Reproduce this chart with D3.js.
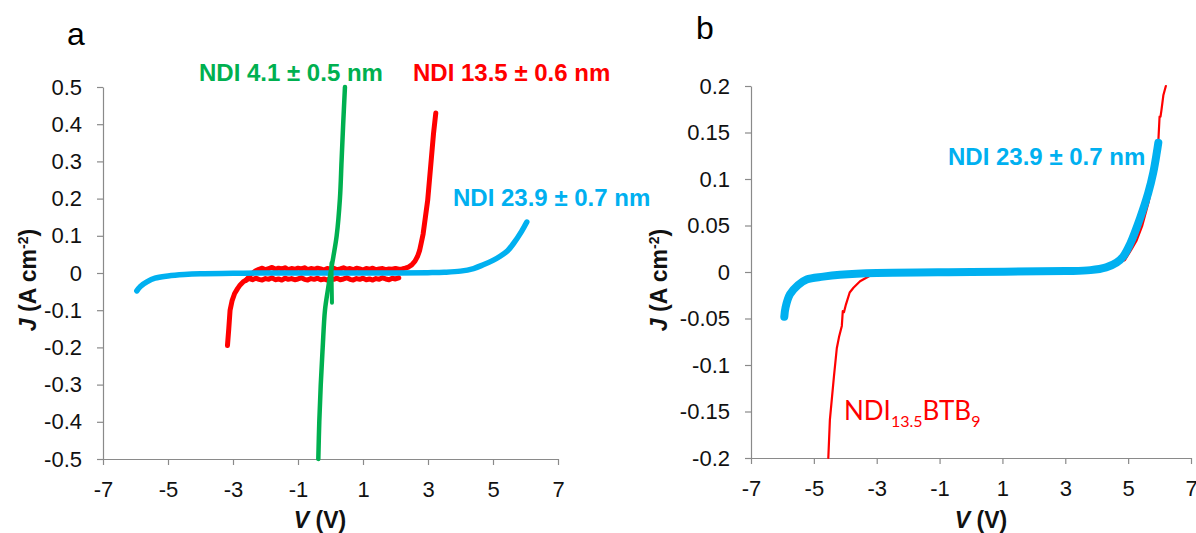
<!DOCTYPE html>
<html>
<head>
<meta charset="utf-8">
<script src="https://cdn.jsdelivr.net/npm/d3@7"></script>
<style>
body { margin: 0; background: #fff; }
svg { display: block; }
.axis text { font-family: "Liberation Sans", Arial, sans-serif; font-size: 22px; fill: #111; }
.axis path, .axis line { stroke: #8a8a8a; stroke-width: 1.2; }
.line { fill: none; stroke-linejoin: round; stroke-linecap: round; }
.lbl { font-family: "Liberation Sans", Arial, sans-serif; font-weight: bold; font-size: 24px; }
.title { font-family: "Liberation Sans", Arial, sans-serif; font-weight: bold; font-size: 23px; fill: #111; }
</style>
</head>
<body>
<script>
// ---------- data: [V, J] ----------
var xTicks = [-7, -5, -3, -1, 1, 3, 5, 7];
var yTicksA = [-0.5, -0.4, -0.3, -0.2, -0.1, 0, 0.1, 0.2, 0.3, 0.4, 0.5];
var yTicksB = [-0.2, -0.15, -0.1, -0.05, 0, 0.05, 0.1, 0.15, 0.2];
var yLabelsB = ["-0.2", "-0.15", "-0.1", "-0.05", "0", "0.05", "0.1", "0.15", "0.2"];

// panel a, NDI 4.1 nm
var ndi4 = [[-0.375, -0.5], [-0.345, -0.4], [-0.30, -0.3], [-0.24, -0.2], [-0.17, -0.1],
    [-0.08, -0.045], [0.0, 0.0], [0.09, 0.045], [0.19, 0.1], [0.29, 0.2], [0.34, 0.3],
    [0.39, 0.4], [0.445, 0.5]];
var ndi4spike = [[0.03, 0.027], [0.035, -0.02], [0.045, -0.08]];

// panel a, NDI 13.5 nm (two sweep branches, noisy plateau)
var ndi13low = [[-3.17, -0.195], [-3.13, -0.15], [-3.09, -0.1], [-3.03, -0.075], [-2.95, -0.055],
    [-2.86, -0.042], [-2.78, -0.032], [-2.69, -0.024],
    [-2.6, -0.019], [-2.5, -0.015], [-2.4, -0.018], [-2.3, -0.014], [-2.2, -0.017], [-2.1, -0.019],
    [-2.0, -0.015], [-1.9, -0.017], [-1.8, -0.013], [-1.7, -0.018], [-1.6, -0.016], [-1.5, -0.019],
    [-1.4, -0.014], [-1.3, -0.017], [-1.2, -0.015], [-1.1, -0.018], [-1.0, -0.016], [-0.9, -0.013],
    [-0.8, -0.017], [-0.7, -0.019], [-0.6, -0.015], [-0.5, -0.017], [-0.4, -0.014], [-0.3, -0.018],
    [-0.2, -0.016], [-0.1, -0.019], [0.0, -0.015], [0.1, -0.017], [0.2, -0.014], [0.3, -0.018],
    [0.4, -0.016], [0.5, -0.013], [0.6, -0.017], [0.7, -0.019], [0.8, -0.015], [0.9, -0.017],
    [1.0, -0.014], [1.1, -0.018], [1.2, -0.016], [1.3, -0.019], [1.4, -0.015], [1.5, -0.017],
    [1.6, -0.013], [1.7, -0.016], [1.8, -0.018], [1.9, -0.014], [2.0, -0.016], [2.1, -0.013]];
var ndi13up = [[-2.6, -0.02], [-2.45, -0.004], [-2.3, 0.006], [-2.2, 0.010], [-2.1, 0.013],
    [-2.0, 0.009], [-1.9, 0.012], [-1.8, 0.015], [-1.7, 0.010], [-1.6, 0.013], [-1.5, 0.011],
    [-1.4, 0.014], [-1.3, 0.009], [-1.2, 0.012], [-1.1, 0.010], [-1.0, 0.013], [-0.9, 0.011],
    [-0.8, 0.014], [-0.7, 0.009], [-0.6, 0.012], [-0.5, 0.010], [-0.4, 0.013], [-0.3, 0.011],
    [-0.2, 0.008], [-0.1, 0.012], [0.0, 0.010], [0.1, 0.013], [0.2, 0.009], [0.3, 0.011],
    [0.4, 0.014], [0.5, 0.010], [0.6, 0.012], [0.7, 0.009], [0.8, 0.013], [0.9, 0.011],
    [1.0, 0.008], [1.1, 0.012], [1.2, 0.010], [1.3, 0.013], [1.4, 0.009], [1.5, 0.011],
    [1.6, 0.012], [1.7, 0.009], [1.8, 0.011], [1.9, 0.010], [2.0, 0.012], [2.1, 0.010],
    [2.2, 0.011], [2.3, 0.013], [2.4, 0.016], [2.5, 0.022], [2.6, 0.032], [2.68, 0.045],
    [2.74, 0.06], [2.79, 0.08], [2.85, 0.105], [2.92, 0.15], [2.99, 0.195], [3.08, 0.285],
    [3.17, 0.375], [3.24, 0.43]];

// panel a, NDI 23.9 nm
var ndi23a = [[-5.96, -0.048], [-5.85, -0.036], [-5.65, -0.024], [-5.4, -0.014], [-5.0, -0.008],
    [-4.5, -0.004], [-4.0, -0.002], [-3.0, -0.001], [-2.0, 0.0], [0.0, 0.0], [2.0, 0.0],
    [3.0, 0.001], [3.5, 0.002], [4.0, 0.005], [4.4, 0.012], [4.7, 0.022], [5.0, 0.034],
    [5.22, 0.045], [5.45, 0.06], [5.62, 0.078], [5.88, 0.112], [6.04, 0.137]];

// panel b, NDI 23.9 nm
var ndi23b = [[-5.94, -0.048], [-5.9, -0.038], [-5.76, -0.024], [-5.5, -0.014], [-5.23, -0.008],
    [-4.7, -0.005], [-4.17, -0.003], [-3.0, -0.001], [0.0, 0.0], [3.0, 0.001], [3.8, 0.002],
    [4.3, 0.005], [4.63, 0.01], [4.85, 0.017], [5.06, 0.03], [5.38, 0.058], [5.64, 0.085],
    [5.8, 0.107], [5.91, 0.128], [5.96, 0.139]];

// panel b, NDI13.5BTB9
var ndiBtb = [[-4.54, -0.2], [-4.49, -0.159], [-4.36, -0.112], [-4.27, -0.082], [-4.2, -0.07],
    [-4.11, -0.058], [-4.08, -0.042], [-4.04, -0.043], [-3.98, -0.035], [-3.86, -0.022],
    [-3.74, -0.017], [-3.53, -0.01], [-3.16, -0.003], [-2.5, -0.001], [0.0, 0.0], [3.0, 0.001],
    [4.0, 0.004], [4.6, 0.008], [4.9, 0.013], [5.1, 0.024], [5.27, 0.034], [5.45, 0.05],
    [5.65, 0.075], [5.82, 0.104], [5.96, 0.14], [6.0, 0.167], [6.03, 0.167], [6.06, 0.174],
    [6.12, 0.19], [6.2, 0.2]];

var green = "#00b050", red = "#ff0000", blue = "#00b0f0";

//---------setup-----------//
var svg = d3.select("body").append("svg")
    .attr("width", 1196)
    .attr("height", 533);

// scales
var xa = d3.scaleLinear().domain([-7, 7]).range([103, 558]);
var ya = d3.scaleLinear().domain([-0.5, 0.5]).range([459, 87]);
var xb = d3.scaleLinear().domain([-7, 7]).range([751, 1191]);
var yb = d3.scaleLinear().domain([-0.2, 0.2]).range([458, 86]);

function drawAxes(x, y, yt, yfmt) {
    svg.append("g")
        .attr("class", "axis")
        .attr("transform", "translate(0," + y.range()[0] + ")")
        .call(d3.axisBottom(x).tickValues(xTicks).tickSize(6).tickSizeOuter(0).tickPadding(16)
            .tickFormat(function (d) { return String(d); }));
    svg.append("g")
        .attr("class", "axis")
        .attr("transform", "translate(" + x.range()[0] + ",0)")
        .call(d3.axisLeft(y).tickValues(yt).tickSize(6).tickSizeOuter(0).tickPadding(15)
            .tickFormat(yfmt));
}

drawAxes(xa, ya, yTicksA, function (d) { return String(+d.toFixed(1)); });
drawAxes(xb, yb, yTicksB, function (d, i) { return yLabelsB[i]; });

function addLine(data, x, y, color, w, curve) {
    var line = d3.line()
        .curve(curve || d3.curveCatmullRom)
        .x(function (d) { return x(d[0]); })
        .y(function (d) { return y(d[1]); });
    svg.append("path")
        .datum(data)
        .attr("class", "line")
        .style("stroke", color)
        .style("stroke-width", w)
        .attr("d", line);
}

// panel a curves
addLine(ndi13low, xa, ya, red, 5, d3.curveLinear);
addLine(ndi13up, xa, ya, red, 5, d3.curveLinear);
addLine(ndi23a, xa, ya, blue, 5.5);
addLine(ndi4, xa, ya, green, 4.5);
addLine(ndi4spike, xa, ya, green, 4);

// panel b curves
addLine(ndiBtb, xb, yb, red, 2.2, d3.curveLinear);
addLine(ndi23b, xb, yb, blue, 8);

// panel letters
svg.append("text").attr("x", 67).attr("y", 45)
    .style("font-family", "Liberation Sans, Arial, sans-serif").style("font-size", "32px").text("a");
svg.append("text").attr("x", 696).attr("y", 39)
    .style("font-family", "Liberation Sans, Arial, sans-serif").style("font-size", "32px").text("b");

// series labels
svg.append("text").attr("class", "lbl").attr("x", 199).attr("y", 81).style("fill", green)
    .text("NDI 4.1 ± 0.5 nm");
svg.append("text").attr("class", "lbl").attr("x", 413).attr("y", 81).style("fill", red)
    .text("NDI 13.5 ± 0.6 nm");
svg.append("text").attr("class", "lbl").attr("x", 453).attr("y", 206).style("fill", blue)
    .text("NDI 23.9 ± 0.7 nm");
svg.append("text").attr("class", "lbl").attr("x", 948).attr("y", 165).style("fill", blue)
    .text("NDI 23.9 ± 0.7 nm");

var btb = svg.append("text").attr("x", 844).attr("y", 420)
    .style("font-family", "Lato, 'Open Sans', sans-serif").style("font-size", "26px").style("fill", red);
btb.append("tspan").text("NDI");
btb.append("tspan").attr("dy", 7).style("font-size", "16px").text("13.5");
btb.append("tspan").attr("dy", -7).text("BTB");
btb.append("tspan").attr("dy", 7).style("font-size", "16px").text("9");

// axis titles
function yTitle(xpos) {
    var t = svg.append("text").attr("class", "title")
        .attr("transform", "translate(" + xpos + ",280) rotate(-90)")
        .attr("text-anchor", "middle");
    t.append("tspan").style("font-style", "italic").text("J");
    t.append("tspan").text(" (A cm");
    t.append("tspan").attr("dy", -8).style("font-size", "14px").text("-2");
    t.append("tspan").attr("dy", 8).text(")");
}
function xTitle(xpos) {
    var t = svg.append("text").attr("class", "title")
        .attr("x", xpos).attr("y", 528)
        .attr("text-anchor", "middle");
    t.append("tspan").style("font-style", "italic").text("V");
    t.append("tspan").text(" (V)");
}
yTitle(36);
yTitle(667);
xTitle(320);
xTitle(981);
</script>
</body>
</html>
